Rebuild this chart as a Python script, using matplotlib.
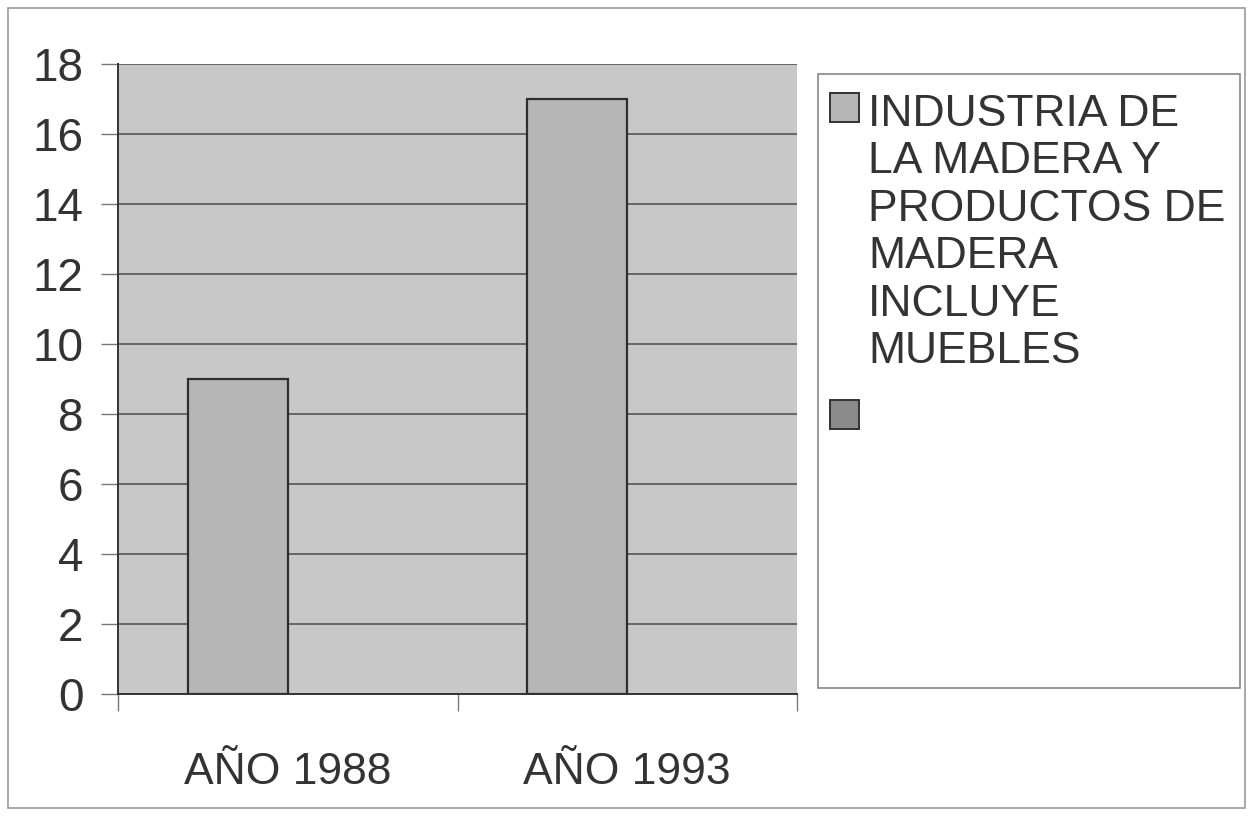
import numpy as np
import matplotlib.pyplot as plt
from matplotlib.patches import Rectangle

categories = ['AÑO 1988', 'AÑO 1993']
madera = [9, 17]
otra = [np.nan, np.nan]
series_labels = ['INDUSTRIA DE\nLA MADERA Y\nPRODUCTOS DE\nMADERA\nINCLUYE\nMUEBLES', '']
series_colors = ['#b6b6b6', '#8a8a8a']
y_ticks = np.arange(0, 19, 2)

plt.rcParams['font.family'] = ['Liberation Sans', 'DejaVu Sans']
text_color = '#333333'

fig = plt.figure(figsize=(12.53, 8.16), dpi=100)
ax = fig.add_axes([118 / 1253, 1 - 694 / 816, 679 / 1253, 630 / 816])
ax.set_facecolor('#c8c8c8')

x = np.arange(len(categories))
w = 0.294
bars1 = ax.bar(x - w / 2, madera, w, color=series_colors[0], edgecolor='#2e2e2e', linewidth=1.6, zorder=3)
bars2 = ax.bar(x + w / 2, otra, w, color=series_colors[1], edgecolor='#2e2e2e', linewidth=1.6, zorder=3)

ax.set_xlim(-0.5, 1.5)
ax.set_ylim(0, 18)
ax.set_yticks(y_ticks)
ax.yaxis.grid(True, color='#555555', linewidth=1.2, zorder=1)
ax.set_axisbelow(True)

ax.set_xticks(x)
ax.set_xticklabels(categories)
ax.set_xticks([-0.5, 0.5, 1.5], minor=True)
ax.tick_params(axis='x', which='major', length=0, pad=42, labelsize=32, labelcolor=text_color)
ax.tick_params(axis='x', which='minor', length=12, width=1, color='#777777', direction='out')
ax.tick_params(axis='y', length=12, width=1, color='#777777', pad=13, labelsize=33, labelcolor=text_color)

for side in ['top', 'right']:
    ax.spines[side].set_visible(False)
ax.spines['left'].set_color('#333333')
ax.spines['bottom'].set_color('#333333')
ax.spines['left'].set_linewidth(1.4)
ax.spines['bottom'].set_linewidth(1.4)

# legend box drawn by hand so the squares line up with the first text line
fig.patches.append(Rectangle((818 / 1253, 1 - 688 / 816), 422 / 1253, 614 / 816,
                             transform=fig.transFigure, facecolor='white',
                             edgecolor='#888888', linewidth=1.2))
sq = 29
entry_tops = [93, 400]
for lab, col, top in zip(series_labels, series_colors, entry_tops):
    fig.patches.append(Rectangle((830 / 1253, 1 - (top + sq) / 816), sq / 1253, sq / 816,
                                 transform=fig.transFigure, facecolor=col,
                                 edgecolor='#333333', linewidth=1.4))
    if lab:
        fig.text(868 / 1253, 1 - (top + 1) / 816, lab, fontsize=32, color=text_color,
                 va='top', ha='left', linespacing=1.2)

# outer border of the chart
fig.patches.append(Rectangle((8 / 1253, 1 - 808 / 816), 1237 / 1253, 800 / 816,
                             transform=fig.transFigure, facecolor='none',
                             edgecolor='#999999', linewidth=1.2))

fig.savefig('out.png', dpi=100)
